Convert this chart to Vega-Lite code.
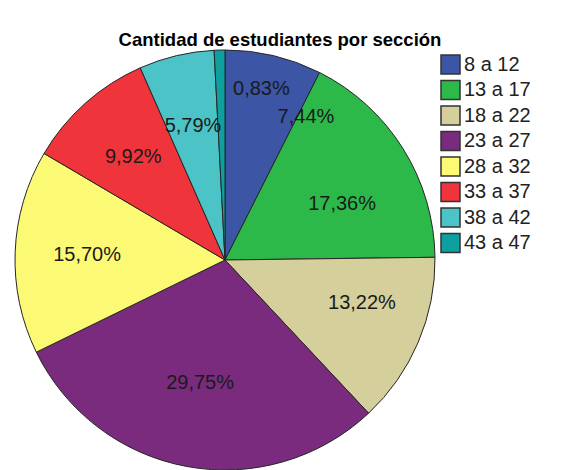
{
  "$schema": "https://vega.github.io/schema/vega-lite/v6.json",
  "autosize": "none",
  "width": 420,
  "height": 420,
  "padding": {"left": 15, "top": 50, "right": 134, "bottom": 0},
  "background": "white",
  "title": {
    "text": "Cantidad de estudiantes  por sección",
    "font": "Liberation Sans",
    "fontSize": 18.5,
    "fontWeight": "bold",
    "color": "#000000",
    "anchor": "middle",
    "dx": 55,
    "offset": -1
  },
  "data": {
    "values": [
      {"orden": 1, "rango": "8 a 12", "n": 9, "pct": "7,44%"},
      {"orden": 2, "rango": "13 a 17", "n": 21, "pct": "17,36%"},
      {"orden": 3, "rango": "18 a 22", "n": 16, "pct": "13,22%"},
      {"orden": 4, "rango": "23 a 27", "n": 36, "pct": "29,75%"},
      {"orden": 5, "rango": "28 a 32", "n": 19, "pct": "15,70%"},
      {"orden": 6, "rango": "33 a 37", "n": 12, "pct": "9,92%"},
      {"orden": 7, "rango": "38 a 42", "n": 7, "pct": "5,79%"},
      {"orden": 8, "rango": "43 a 47", "n": 1, "pct": "0,83%"}
    ]
  },
  "encoding": {
    "theta": {"field": "n", "type": "quantitative", "stack": true},
    "order": {"field": "orden", "type": "quantitative", "sort": "ascending"},
    "color": {
      "field": "rango",
      "type": "nominal",
      "sort": ["8 a 12", "13 a 17", "18 a 22", "23 a 27", "28 a 32", "33 a 37", "38 a 42", "43 a 47"],
      "scale": {
        "domain": ["8 a 12", "13 a 17", "18 a 22", "23 a 27", "28 a 32", "33 a 37", "38 a 42", "43 a 47"],
        "range": ["#3C55A5", "#2DB94A", "#D5CF9B", "#7B2B7E", "#FCF975", "#F0343C", "#4CC3C7", "#0DA09F"]
      },
      "legend": {
        "title": null,
        "orient": "right",
        "offset": 1,
        "padding": 4,
        "symbolType": "square",
        "symbolSize": 361,
        "symbolStrokeColor": "#333333",
        "symbolStrokeWidth": 1.5,
        "symbolOpacity": 1,
        "labelFont": "Liberation Sans",
        "labelFontSize": 20,
        "labelColor": "#222222",
        "labelOffset": 3,
        "rowPadding": 0.5
      }
    }
  },
  "layer": [
    {
      "mark": {"type": "arc", "radius": 210, "stroke": "#262626", "strokeWidth": 1}
    },
    {
      "mark": {"type": "text", "radius": 138, "font": "Liberation Sans", "fontSize": 20},
      "encoding": {
        "fill": {"value": "#1a1a1a"},
        "text": {
          "condition": {"test": "indexof(['28 a 32', '33 a 37', '38 a 42'], datum.rango) >= 0", "field": "pct"},
          "value": ""
        }
      }
    },
    {
      "mark": {"type": "text", "radius": 138, "font": "Liberation Sans", "fontSize": 20, "dx": 49, "dy": -9},
      "encoding": {
        "fill": {"value": "#1a1a1a"},
        "text": {
          "condition": {"test": "datum.rango === '8 a 12'", "field": "pct"},
          "value": ""
        }
      }
    },
    {
      "mark": {"type": "text", "radius": 138, "font": "Liberation Sans", "fontSize": 20, "dx": 0, "dy": 17},
      "encoding": {
        "fill": {"value": "#1a1a1a"},
        "text": {
          "condition": {"test": "datum.rango === '13 a 17'", "field": "pct"},
          "value": ""
        }
      }
    },
    {
      "mark": {"type": "text", "radius": 138, "font": "Liberation Sans", "fontSize": 20, "dx": 10, "dy": -11},
      "encoding": {
        "fill": {"value": "#1a1a1a"},
        "text": {
          "condition": {"test": "datum.rango === '18 a 22'", "field": "pct"},
          "value": ""
        }
      }
    },
    {
      "mark": {"type": "text", "radius": 138, "font": "Liberation Sans", "fontSize": 20, "dx": 0, "dy": -13},
      "encoding": {
        "fill": {"value": "#1a1a1a"},
        "text": {
          "condition": {"test": "datum.rango === '23 a 27'", "field": "pct"},
          "value": ""
        }
      }
    },
    {
      "mark": {"type": "text", "radius": 138, "font": "Liberation Sans", "fontSize": 20, "dx": 40, "dy": -33},
      "encoding": {
        "fill": {"value": "#1a1a1a"},
        "text": {
          "condition": {"test": "datum.rango === '43 a 47'", "field": "pct"},
          "value": ""
        }
      }
    }
  ],
  "config": {
    "view": {"stroke": null}
  }
}
